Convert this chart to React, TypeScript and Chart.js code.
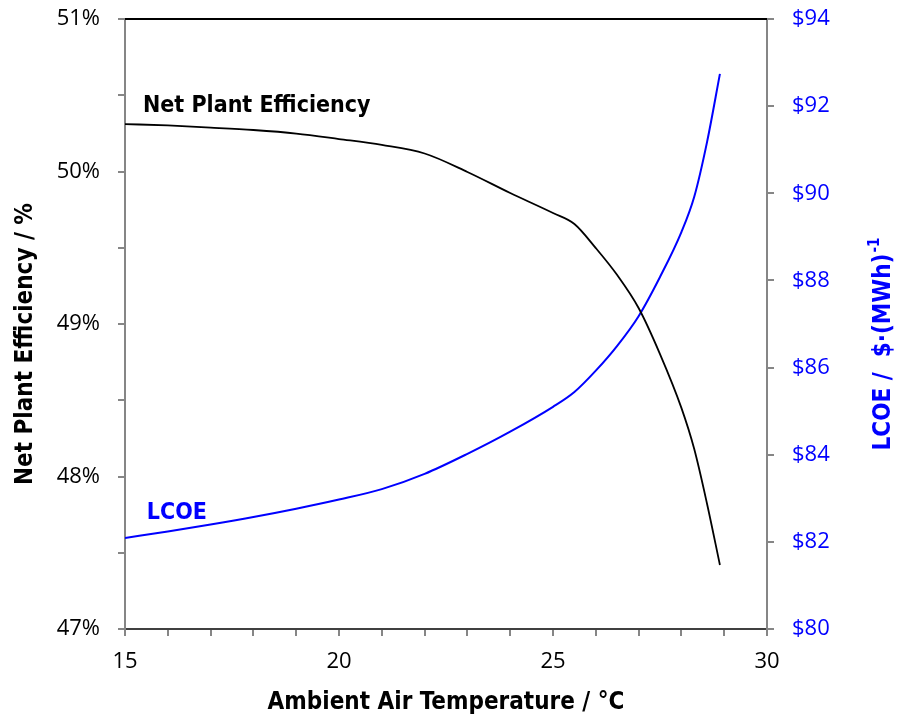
import React, { useEffect, useRef } from "react";
import { Chart, registerables } from "chart.js";

Chart.register(...registerables);

const temperatures = [15, 16, 17, 18, 19, 20, 21, 22, 23, 24, 25, 25.5, 26, 26.5, 27, 27.5, 28, 28.3, 28.6, 28.9];
const efficiency = [50.311, 50.302, 50.288, 50.272, 50.249, 50.213, 50.174, 50.118, 49.997, 49.859, 49.728, 49.656, 49.498, 49.321, 49.105, 48.803, 48.45, 48.18, 47.82, 47.42];
const lcoe = [82.09, 82.24, 82.4, 82.57, 82.76, 82.97, 83.21, 83.56, 84.02, 84.53, 85.1, 85.44, 85.93, 86.5, 87.18, 88.08, 89.11, 89.92, 91.18, 92.74];

const xTitle = "Ambient Air Temperature / °C";
const yTitle = "Net Plant Efficiency / %";
const y2Title = "LCOE /  $·(MWh)";
const y2TitleSup = "-1";
const effLabel = "Net Plant Efficiency";
const lcoeLabel = "LCOE";

const TITLE_FONT = "'DejaVu Sans Condensed', 'DejaVu Sans', sans-serif";
const TICK_FONT = "'Open Sans', 'Liberation Sans', sans-serif";
const BLUE = "#0000FF";
const AXIS_GRAY = "#868686";

const overlayPlugin = {
  id: "overlay",
  afterDraw(chart: any) {
    const { ctx, chartArea, scales } = chart;
    ctx.save();
    // top border
    ctx.strokeStyle = "#000000";
    ctx.lineWidth = 2;
    ctx.beginPath();
    ctx.moveTo(chartArea.left, chartArea.top);
    ctx.lineTo(chartArea.right, chartArea.top);
    ctx.stroke();

    // series labels
    ctx.font = `bold 23px ${TITLE_FONT}`;
    ctx.textAlign = "left";
    ctx.textBaseline = "alphabetic";
    ctx.fillStyle = "#000000";
    ctx.fillText(effLabel, scales.x.getPixelForValue(15.42), scales.y.getPixelForValue(50.39));
    ctx.fillStyle = BLUE;
    ctx.fillText(lcoeLabel, scales.x.getPixelForValue(15.51), scales.y2.getPixelForValue(82.52));

    const midY = (chartArea.top + chartArea.bottom) / 2 + 20;

    // left axis title (reads bottom to top)
    ctx.save();
    ctx.translate(26, midY);
    ctx.rotate(-Math.PI / 2);
    ctx.font = `bold 24px ${TITLE_FONT}`;
    ctx.textAlign = "center";
    ctx.textBaseline = "middle";
    ctx.fillStyle = "#000000";
    ctx.fillText(yTitle, 0, 0);
    ctx.restore();

    // right axis title (reads bottom to top)
    ctx.save();
    ctx.translate(884, midY);
    ctx.rotate(-Math.PI / 2);
    ctx.font = `bold 24px ${TITLE_FONT}`;
    const mainW = ctx.measureText(y2Title).width;
    ctx.font = `bold 15px ${TITLE_FONT}`;
    const supW = ctx.measureText(y2TitleSup).width;
    const total = mainW + supW + 1;
    ctx.textAlign = "left";
    ctx.textBaseline = "middle";
    ctx.fillStyle = BLUE;
    ctx.font = `bold 24px ${TITLE_FONT}`;
    ctx.fillText(y2Title, -total / 2, 0);
    ctx.font = `bold 15px ${TITLE_FONT}`;
    ctx.fillText(y2TitleSup, -total / 2 + mainW + 1, -9);
    ctx.restore();

    ctx.restore();
  },
};

export default function App() {
  const canvasRef = useRef<HTMLCanvasElement | null>(null);

  useEffect(() => {
    const canvas = canvasRef.current;
    if (!canvas) return;
    const effData = temperatures.map((t, i) => ({ x: t, y: efficiency[i] }));
    const lcoeData = temperatures.map((t, i) => ({ x: t, y: lcoe[i] }));

    const chart = new Chart(canvas, {
      type: "line",
      data: {
        datasets: [
          {
            label: effLabel,
            data: effData,
            borderColor: "#000000",
            borderWidth: 1.8,
            pointRadius: 0,
            cubicInterpolationMode: "monotone",
            yAxisID: "y",
          },
          {
            label: lcoeLabel,
            data: lcoeData,
            borderColor: BLUE,
            borderWidth: 2,
            pointRadius: 0,
            cubicInterpolationMode: "monotone",
            yAxisID: "y2",
          },
        ],
      },
      options: {
        animation: false,
        responsive: true,
        maintainAspectRatio: false,
        layout: { padding: { top: 19, left: 0, right: 0, bottom: 0 } },
        plugins: { legend: { display: false }, tooltip: { enabled: false } },
        scales: {
          x: {
            type: "linear",
            min: 15,
            max: 30,
            afterFit: (s: any) => { s.height = 92; s.paddingLeft = 0; s.paddingRight = 0; },
            ticks: {
              stepSize: 1,
              color: "#000000",
              font: { family: TICK_FONT, size: 22 },
              padding: 13,
              maxRotation: 0,
              autoSkip: false,
              callback: (v: any) => (Number(v) % 5 === 0 ? String(v) : ""),
            },
            grid: { display: true, drawOnChartArea: false, drawTicks: true, tickLength: 7, color: AXIS_GRAY, lineWidth: 2 },
            border: { display: true, color: "#404040", width: 2 },
            title: {
              display: true,
              text: xTitle,
              color: "#000000",
              font: { family: TITLE_FONT, size: 24, weight: "bold" },
              padding: { top: 0, bottom: 4 },
            },
          },
          y: {
            type: "linear",
            position: "left",
            min: 47,
            max: 51,
            afterFit: (s: any) => { s.width = 125; s.paddingTop = 0; s.paddingBottom = 0; },
            ticks: {
              stepSize: 0.5,
              color: "#000000",
              font: { family: TICK_FONT, size: 22 },
              padding: 18,
              autoSkip: false,
              callback: (v: any) => (Number.isInteger(Number(v)) ? `${v}%` : ""),
            },
            grid: { display: true, drawOnChartArea: false, drawTicks: true, tickLength: 7, color: AXIS_GRAY, lineWidth: 2 },
            border: { display: true, color: AXIS_GRAY, width: 2 },
            title: { display: false, text: yTitle },
          },
          y2: {
            type: "linear",
            position: "right",
            min: 80,
            max: 94,
            afterFit: (s: any) => { s.width = 133; s.paddingTop = 0; s.paddingBottom = 0; },
            ticks: {
              stepSize: 2,
              color: BLUE,
              font: { family: TICK_FONT, size: 22 },
              padding: 18,
              autoSkip: false,
              callback: (v: any) => `$${v}`,
            },
            grid: { display: true, drawOnChartArea: false, drawTicks: true, tickLength: 7, color: AXIS_GRAY, lineWidth: 2 },
            border: { display: true, color: AXIS_GRAY, width: 2 },
            title: { display: false, text: y2Title },
          },
        },
      },
      plugins: [overlayPlugin],
    } as any);

    return () => chart.destroy();
  }, []);

  return (
    <div style={{ position: "absolute", left: 0, top: 0, width: 900, height: 721, background: "#ffffff" }}>
      <canvas ref={canvasRef} />
    </div>
  );
}
